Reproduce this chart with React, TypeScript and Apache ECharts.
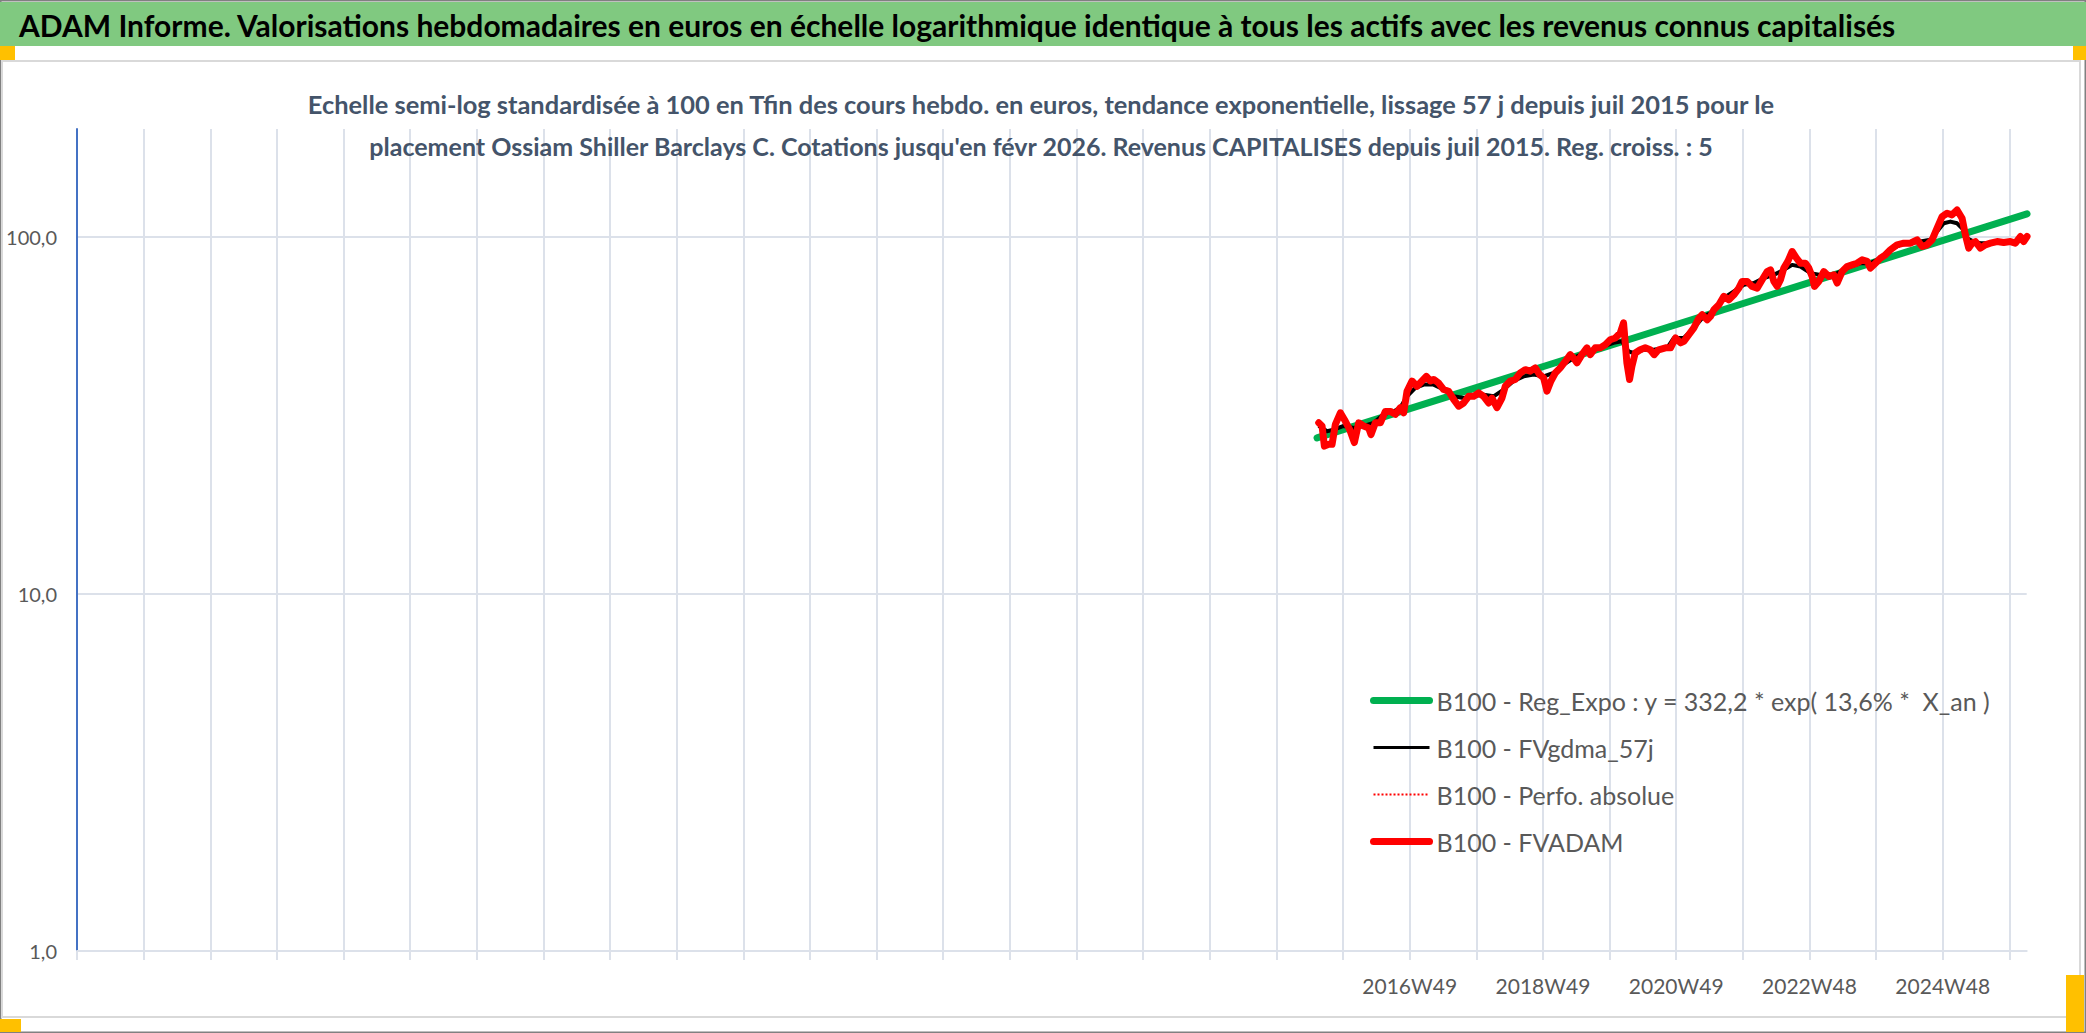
import React, { useEffect, useRef } from 'react';
import * as echarts from 'echarts';

// ---------- texts ----------
const TITLE =
  'ADAM Informe. Valorisations hebdomadaires en euros en échelle logarithmique identique à tous les actifs avec les revenus connus capitalisés';
const SUBTITLE_1 =
  'Echelle semi-log standardisée à 100 en Tfin des cours hebdo. en euros, tendance exponentielle, lissage 57 j depuis juil 2015 pour le';
const SUBTITLE_2 =
  "placement Ossiam Shiller Barclays C. Cotations jusqu'en févr 2026. Revenus CAPITALISES depuis juil 2015. Reg. croiss. : 5";

const SERIES_NAMES = [
  'B100 - Reg_Expo : y = 332,2 * exp( 13,6% *  X_an )',
  'B100 - FVgdma_57j',
  'B100 - Perfo. absolue',
  'B100 - FVADAM',
];

// ---------- axes ----------
const BASE_YEAR = 1996.93; // first yearly tick of the category axis (1996W49)
const X_MAX_OFFSET = 29.26; // axis end (févr 2026)
const xTickPositions = [20, 22, 24, 26, 28];
const xTickLabels = ['2016W49', '2018W49', '2020W49', '2022W48', '2024W48'];
const Y_MIN = 1;
const Y_MAX = 200;

// ---------- data ----------
const regYears = [2015.54, 2026.195];
const regValues = [27.3, 115.7];

const gdmaYears = [
  2015.565, 2015.69, 2015.79, 2015.94, 2016.09, 2016.24, 2016.39, 2016.54, 2016.69, 2016.79,
  2016.89, 2017.015, 2017.14, 2017.29, 2017.44, 2017.59, 2017.74, 2017.89, 2018.04, 2018.19,
  2018.34, 2018.49, 2018.64, 2018.79, 2018.94, 2019.09, 2019.24, 2019.39, 2019.54, 2019.69,
  2019.84, 2019.99, 2020.115, 2020.215, 2020.29, 2020.44, 2020.59, 2020.795, 2020.895, 2021.045,
  2021.195, 2021.345, 2021.495, 2021.645, 2021.795, 2021.945, 2022.095, 2022.245, 2022.395, 2022.545,
  2022.67, 2022.795, 2022.945, 2023.095, 2023.245, 2023.395, 2023.545, 2023.695, 2023.845, 2023.995,
  2024.145, 2024.295, 2024.445, 2024.595, 2024.745, 2024.845, 2024.945, 2025.045, 2025.145, 2025.22,
  2025.295, 2025.395, 2025.495, 2025.645, 2025.795, 2025.945, 2026.095, 2026.195,
];
const gdmaValues = [
  29.5, 28.5, 28.8, 29.5, 29.1, 29.5, 30.1, 31.8, 32.4, 33.2,
  35.7, 37.7, 38.5, 38.5, 37.3, 35.7, 35.3, 35.7, 36.1, 35.7,
  37.3, 39.4, 40.6, 41.1, 40.6, 41.5, 43.8, 45.7, 47.2, 48.2,
  49.3, 50.4, 50.9, 47.7, 47.2, 48.2, 48.2, 48.8, 52.0, 52.0,
  55.5, 59.8, 61.7, 67.3, 70.2, 73.3, 74.1, 76.5, 78.1, 80.7,
  83.3, 82.4, 79.0, 78.1, 77.3, 79.8, 82.4, 84.2, 84.2, 87.0,
  91.8, 94.8, 95.8, 96.8, 97.9, 103.3, 108.9, 110.1, 108.9, 105.5,
  98.9, 96.8, 95.8, 95.8, 96.2, 96.4, 97.3, 98.5,
];

const adamYears = [
  2015.565, 2015.615, 2015.65, 2015.715, 2015.765, 2015.815, 2015.89, 2015.965, 2016.03, 2016.1,
  2016.165, 2016.24, 2016.315, 2016.35, 2016.415, 2016.49, 2016.565, 2016.64, 2016.715, 2016.79,
  2016.84, 2016.89, 2016.965, 2017.04, 2017.115, 2017.18, 2017.24, 2017.29, 2017.365, 2017.44,
  2017.515, 2017.59, 2017.665, 2017.74, 2017.815, 2017.89, 2017.965, 2018.04, 2018.115, 2018.165,
  2018.24, 2018.315, 2018.365, 2018.44, 2018.515, 2018.59, 2018.665, 2018.74, 2018.815, 2018.88,
  2018.94, 2018.99, 2019.05, 2019.115, 2019.19, 2019.265, 2019.34, 2019.39, 2019.44, 2019.515,
  2019.59, 2019.64, 2019.715, 2019.79, 2019.865, 2019.94, 2020.015, 2020.09, 2020.14, 2020.19,
  2020.23, 2020.265, 2020.315, 2020.39, 2020.465, 2020.54, 2020.6, 2020.665,
  2020.77, 2020.845, 2020.92, 2020.995, 2021.045, 2021.12, 2021.195, 2021.27, 2021.32, 2021.395,
  2021.445, 2021.495, 2021.57, 2021.645, 2021.72, 2021.795, 2021.87, 2021.92, 2021.995, 2022.07,
  2022.145, 2022.22, 2022.295, 2022.345, 2022.395, 2022.445, 2022.495, 2022.545, 2022.605, 2022.67,
  2022.735, 2022.795, 2022.87, 2022.92, 2022.97, 2023.005, 2023.07, 2023.145, 2023.22, 2023.295,
  2023.345, 2023.42, 2023.495, 2023.57, 2023.645, 2023.72, 2023.795, 2023.845, 2023.92, 2023.995,
  2024.07, 2024.145, 2024.245, 2024.345, 2024.445, 2024.545, 2024.62, 2024.695, 2024.77, 2024.845,
  2024.92, 2024.995, 2025.07, 2025.145, 2025.22, 2025.27, 2025.32, 2025.37, 2025.42, 2025.495,
  2025.57, 2025.645, 2025.745, 2025.845, 2025.945, 2026.02, 2026.095, 2026.145, 2026.195,
];
const adamValues = [
  30.1, 29.5, 25.9, 26.2, 26.2, 29.8, 32.1, 30.4, 28.8, 26.5,
  30.1, 29.5, 29.1, 27.9, 30.1, 30.1, 32.4, 32.4, 31.8, 33.2,
  32.1, 36.9, 39.4, 38.1, 39.4, 40.6, 39.4, 39.8, 38.9, 37.3,
  36.9, 35.0, 33.5, 34.2, 35.7, 35.7, 36.5, 35.7, 34.2, 35.3,
  33.2, 35.3, 38.1, 39.4, 39.8, 41.5, 42.4, 42.0, 42.9, 41.1,
  40.2, 36.9, 39.4, 41.5, 42.9, 44.7, 46.7, 45.7, 44.3, 46.7,
  48.8, 46.7, 48.8, 48.8, 49.8, 51.4, 52.0, 53.7, 57.3, 44.3,
  39.8, 43.3, 47.2, 48.2, 48.8, 48.2, 46.7, 48.2,
  48.8, 48.8, 52.0, 50.4, 50.9, 53.1, 55.5, 59.1, 60.4, 58.5,
  59.8, 62.4, 64.4, 68.0, 66.5, 68.7, 71.7, 74.9, 74.9, 72.5,
  71.7, 75.7, 79.8, 80.7, 74.9, 72.5, 75.7, 81.6, 85.2, 90.8,
  87.0, 84.2, 84.2, 81.6, 77.3, 72.5, 74.9, 79.8, 77.3, 78.1,
  74.1, 79.8, 82.4, 83.3, 84.2, 86.1, 85.2, 81.6, 84.2, 87.0,
  88.9, 91.8, 94.8, 95.8, 95.8, 97.9, 93.8, 94.8, 97.9, 105.5,
  113.7, 116.2, 115.0, 118.7, 112.5, 101.1, 92.8, 95.8, 96.8, 92.8,
  94.8, 95.8, 96.8, 96.2, 96.8, 95.8, 100.0, 96.8, 100.0,
];
// the absolute performance overlaps FVADAM in the picture
const perfoYears = adamYears;
const perfoValues = adamValues;

// ---------- helpers ----------
const toPoints = (years: number[], values: number[]) => {
  const n = Math.min(years.length, values.length);
  const out: [number, number][] = [];
  for (let i = 0; i < n; i++) out.push([years[i] - BASE_YEAR, values[i]]);
  return out;
};

function textWidth(text: string, font: string): number {
  const ctx = document.createElement('canvas').getContext('2d');
  if (!ctx) return 0;
  ctx.font = font;
  return ctx.measureText(text).width;
}
function fitScale(text: string, font: string, target: number): number {
  const w = textWidth(text, font);
  return w > 0 ? target / w : 1;
}

const W = 2086;
const H = 1033;
const GRID_COLOR = '#DCE1EA';
const LABEL_COLOR = '#595959';
const FONT = 'Lato';
const GREEN = '#00B050';
const RED = '#FF0000';

export default function App() {
  const ref = useRef<HTMLDivElement>(null);

  useEffect(() => {
    if (!ref.current) return;
    const chart = echarts.init(ref.current, undefined, { renderer: 'svg', width: W, height: H });

    const TITLE_SIZE = 31;
    const SUB_SIZE = 25;
    const titleScale = fitScale(TITLE, `bold ${TITLE_SIZE}px ${FONT}`, 1877);
    const sub1Scale = fitScale(SUBTITLE_1, `bold ${SUB_SIZE}px ${FONT}`, 1468);
    const sub2Scale = fitScale(SUBTITLE_2, `bold ${SUB_SIZE}px ${FONT}`, 1345);

    const labelMap: Record<number, string> = {};
    xTickPositions.forEach((p, i) => (labelMap[p] = xTickLabels[i]));

    const option: any = {
      animation: false,
      backgroundColor: '#ffffff',
      graphic: [
        { type: 'rect', z: -20, shape: { x: 0.5, y: 0.5, width: W - 1, height: H - 1 }, style: { fill: '#ffffff', stroke: '#808080', lineWidth: 2 } },
        { type: 'rect', z: -19, shape: { x: 0, y: 2, width: W, height: 44 }, style: { fill: '#80C980' } },
        { type: 'rect', z: -19, shape: { x: 2, y: 61, width: 2078, height: 956 }, style: { fill: '#ffffff', stroke: '#D9D9D9', lineWidth: 2 } },
        { type: 'rect', z: -18, shape: { x: 0, y: 46, width: 15, height: 14 }, style: { fill: '#FFC000' } },
        { type: 'rect', z: -18, shape: { x: 2073, y: 46, width: 13, height: 14 }, style: { fill: '#FFC000' } },
        { type: 'rect', z: -18, shape: { x: 0, y: 1019, width: 21, height: 13 }, style: { fill: '#FFC000' } },
        { type: 'rect', z: -18, shape: { x: 2066, y: 975, width: 18, height: 57 }, style: { fill: '#FFC000' } },
        {
          type: 'text', z: 10, x: 19, y: 25, scaleX: titleScale,
          style: { text: TITLE, x: 0, y: 0, fill: '#000000', fontFamily: FONT, fontWeight: 'bold', fontSize: TITLE_SIZE, align: 'left', verticalAlign: 'middle', textAlign: 'left', textVerticalAlign: 'middle' },
        },
        {
          type: 'text', z: 10, x: 1041, y: 104, scaleX: sub1Scale,
          style: { text: SUBTITLE_1, x: 0, y: 0, fill: '#44546A', fontFamily: FONT, fontWeight: 'bold', fontSize: SUB_SIZE, align: 'center', verticalAlign: 'middle', textAlign: 'center', textVerticalAlign: 'middle' },
        },
        {
          type: 'text', z: 10, x: 1041, y: 146, scaleX: sub2Scale,
          style: { text: SUBTITLE_2, x: 0, y: 0, fill: '#44546A', fontFamily: FONT, fontWeight: 'bold', fontSize: SUB_SIZE, align: 'center', verticalAlign: 'middle', textAlign: 'center', textVerticalAlign: 'middle' },
        },
      ],
      grid: { left: 77, right: W - 2026.7, top: 129, bottom: H - 951, containLabel: false },
      legend: {
        orient: 'vertical',
        left: 1370,
        top: 688,
        padding: 0,
        itemWidth: 56,
        itemHeight: 25,
        itemGap: 22,
        selectedMode: false,
        itemStyle: { opacity: 0, borderWidth: 0 },
        textStyle: { fontFamily: FONT, fontSize: 25, color: LABEL_COLOR, lineHeight: 25, padding: [0, 0, 0, 2] },
        data: [
          { name: SERIES_NAMES[0], itemStyle: { opacity: 0 }, lineStyle: { width: 7, color: GREEN, cap: 'round' } },
          { name: SERIES_NAMES[1], itemStyle: { opacity: 0 }, lineStyle: { width: 3, color: '#000000' } },
          { name: SERIES_NAMES[2], itemStyle: { opacity: 0 }, lineStyle: { width: 2, color: RED, type: 'dotted' } },
          { name: SERIES_NAMES[3], itemStyle: { opacity: 0 }, lineStyle: { width: 7, color: RED, cap: 'round' } },
        ],
      },
      xAxis: {
        type: 'value',
        min: 0,
        max: X_MAX_OFFSET,
        interval: 1,
        axisLine: { show: true, lineStyle: { color: GRID_COLOR, width: 2 } },
        axisTick: { show: true, length: 9, lineStyle: { color: GRID_COLOR, width: 2 } },
        splitLine: { show: true, showMaxLine: false, lineStyle: { color: GRID_COLOR, width: 2 } },
        axisLabel: {
          show: true,
          showMaxLabel: false,
          margin: 24,
          fontFamily: FONT,
          fontSize: 21,
          color: LABEL_COLOR,
          formatter: (v: number) => labelMap[Math.round(v * 1000) / 1000] ?? '',
        },
      },
      yAxis: {
        type: 'log',
        logBase: 10,
        min: Y_MIN,
        max: Y_MAX,
        axisLine: { show: true, lineStyle: { color: '#4472C4', width: 2 } },
        axisTick: { show: false },
        splitLine: { show: true, showMaxLine: false, lineStyle: { color: GRID_COLOR, width: 2 } },
        axisLabel: {
          show: true,
          showMaxLabel: false,
          margin: 20,
          fontFamily: FONT,
          fontSize: 20,
          color: LABEL_COLOR,
          formatter: (v: number) => v.toFixed(1).replace('.', ','),
        },
      },
      series: [
        {
          name: SERIES_NAMES[0], type: 'line', symbol: 'none', silent: true,
          itemStyle: { color: GREEN },
          lineStyle: { color: GREEN, width: 7, cap: 'round' },
          data: toPoints(regYears, regValues),
        },
        {
          name: SERIES_NAMES[1], type: 'line', symbol: 'none', silent: true,
          itemStyle: { color: '#000000' },
          lineStyle: { color: '#000000', width: 4, join: 'round' },
          data: toPoints(gdmaYears, gdmaValues),
        },
        {
          name: SERIES_NAMES[2], type: 'line', symbol: 'none', silent: true,
          itemStyle: { color: RED },
          lineStyle: { color: RED, width: 2, type: 'dotted' },
          data: toPoints(perfoYears, perfoValues),
        },
        {
          name: SERIES_NAMES[3], type: 'line', symbol: 'none', silent: true,
          itemStyle: { color: RED },
          lineStyle: { color: RED, width: 7, join: 'round', cap: 'round' },
          data: toPoints(adamYears, adamValues),
        },
      ],
    };

    chart.setOption(option);
    return () => chart.dispose();
  }, []);

  return (
    <div
      ref={ref}
      style={{ position: 'fixed', left: 0, top: 0, width: W, height: H, background: '#ffffff' }}
    />
  );
}
